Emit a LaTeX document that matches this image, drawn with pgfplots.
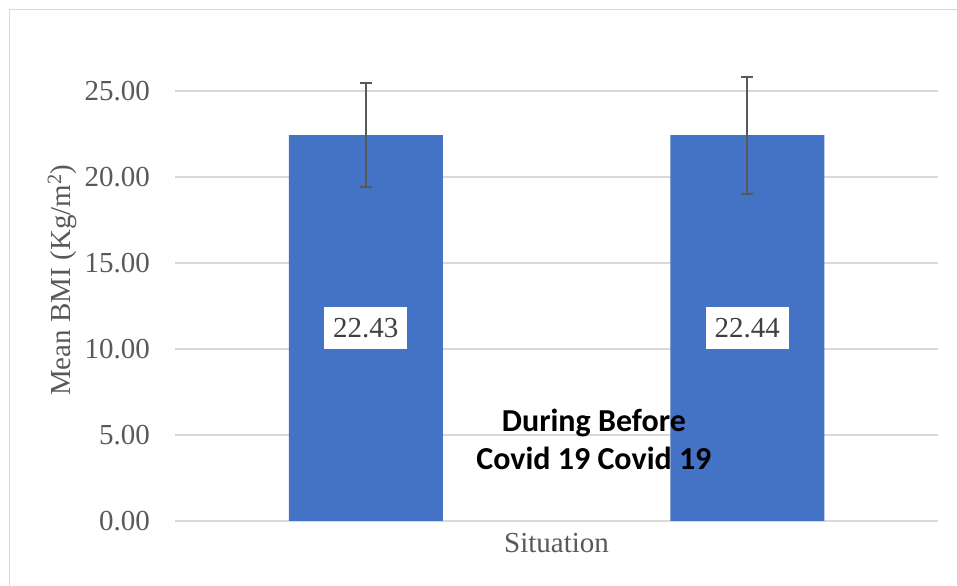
\documentclass[border=0pt]{standalone}
\usepackage{pgfplots}
\pgfplotsset{compat=1.18}
\usepackage{fontspec}
\setmainfont{Liberation Serif}
\newfontfamily\carlito{Carlito}
\definecolor{barblue}{HTML}{4472C4}
\definecolor{gridgray}{HTML}{D9D9D9}
\definecolor{txtgray}{HTML}{595959}
\definecolor{lblgray}{HTML}{404040}
\definecolor{errgray}{HTML}{595959}
\begin{document}
\begin{tikzpicture}
\path[use as bounding box] (0bp,0bp) rectangle (957bp,586bp);
\draw[gridgray, line width=1.5bp] (9.5bp,-5bp) -- (9.5bp,576.5bp) -- (965bp,576.5bp);
\begin{axis}[
  at={(175bp,65bp)}, anchor=south west,
  scale only axis, width=763bp, height=481.6bp,
  xmin=-0.5, xmax=1.5, ymin=0, ymax=28,
  xtick=\empty,
  ytick={0,5,10,15,20,25},
  ymajorgrids, grid style={gridgray, line width=1.5bp},
  axis line style={draw=none},
  major tick length=0pt,
  yticklabel={\pgfmathprintnumber[fixed,fixed zerofill,precision=2,assume math mode=true]{\tick}},
  yticklabel style={font=\fontsize{29bp}{34bp}\selectfont, text=txtgray, anchor=east, inner sep=0pt, xshift=-25bp},
  xlabel={Situation},
  xlabel style={at={(axis description cs:0.5,0)}, anchor=center, yshift=-22bp, font=\fontsize{29bp}{34bp}\selectfont, text=txtgray},
  ylabel={Mean BMI (Kg/m\textsuperscript{2})},
  ylabel style={at={(axis description cs:-0.1481,0.5)}, anchor=center, font=\fontsize{29bp}{34bp}\selectfont, text=txtgray},
  every node near coord/.append style={anchor=center, yshift=-192.8bp, fill=white, text=lblgray, inner sep=0pt, minimum width=83bp, minimum height=42bp, font=\fontsize{29bp}{34bp}\selectfont},
]
\addplot[ybar, bar width=154bp, fill=barblue, draw=none,
  nodes near coords={\pgfmathprintnumber[fixed,fixed zerofill,precision=2,assume math mode=true]{\pgfplotspointmeta}},
  error bars/.cd, y dir=both, y explicit,
  error bar style={errgray, line width=2bp},
  error mark options={errgray, line width=2bp, rotate=90, mark size=6bp}]
  coordinates {(0,22.43) +- (0,3.04) (1,22.44) +- (0,3.40)};
\node[font=\carlito\bfseries\fontsize{32bp}{38bp}\selectfont, align=center, text=black, inner sep=0pt] at (axis cs:0.598,4.77) {During Before\\Covid 19 Covid 19};
\end{axis}
\end{tikzpicture}
\end{document}
